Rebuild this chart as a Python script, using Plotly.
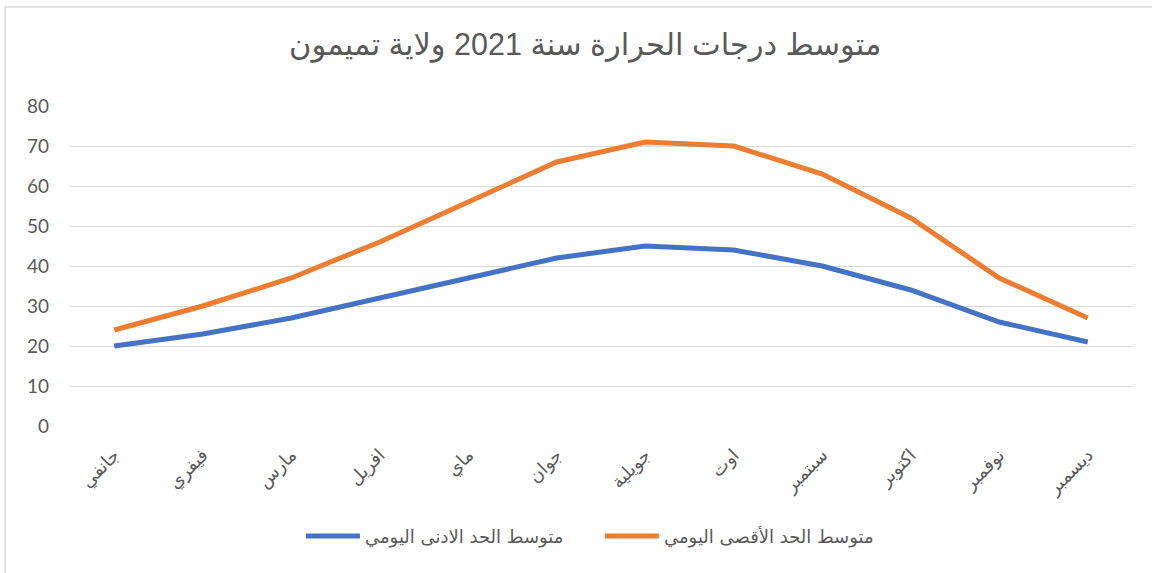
import plotly.graph_objects as go

months = ["جانفي", "فيفري", "مارس", "افريل", "ماي", "جوان", "جويلية", "اوت", "سبتمبر", "اكتوبر", "نوفمبر", "ديسمبر"]
min_vals = [20, 23, 27, 32, 37, 42, 45, 44, 40, 34, 26, 21]
max_vals = [24, 30, 37, 46, 56, 66, 71, 70, 63, 52, 37, 27]
min_name = "متوسط الحد الادنى اليومي"
max_name = "متوسط الحد الأقصى اليومي"
title_text = "متوسط درجات الحرارة سنة 2021 ولاية تميمون"
y_ticks = [0, 10, 20, 30, 40, 50, 60, 70, 80]

fig = go.Figure()
fig.add_trace(go.Scatter(x=months, y=min_vals, name=min_name, mode="lines",
                         line=dict(color="#4472C4", width=5)))
fig.add_trace(go.Scatter(x=months, y=max_vals, name=max_name, mode="lines",
                         line=dict(color="#ED7D31", width=5)))

fig.update_layout(
    width=1152, height=573,
    paper_bgcolor="white", plot_bgcolor="white",
    margin=dict(l=70, r=20, t=106, b=147),
    title=dict(text=title_text, x=0.508, xanchor="center", y=0.922, yanchor="middle",
               font=dict(family="Liberation Sans, Arial, DejaVu Sans", size=30.5, color="#595959")),
    font=dict(family="Lato, DejaVu Sans", color="#595959"),
    showlegend=True,
    legend=dict(orientation="h", x=0.499, xanchor="center", y=-0.345, yanchor="middle",
                font=dict(size=18, color="#595959", family="DejaVu Sans, Lato"),
                itemwidth=54, tracegroupgap=0, entrywidth=230),
    xaxis=dict(type="category", tickangle=-45, showgrid=False, zeroline=False,
               showline=False, ticks="", ticklabelstandoff=14,
               tickfont=dict(size=18, color="#595959", family="DejaVu Sans"),
               range=[-0.5, 11.5]),
    yaxis=dict(range=[0, 80], tickvals=y_ticks, showgrid=True, gridcolor="#D9D9D9", gridwidth=1,
               zeroline=False, showline=False, ticks="", ticklabelstandoff=20,
               tickfont=dict(size=19, color="#595959", family="Lato, Carlito, Liberation Sans")),
)

fig.add_shape(type="line", xref="paper", yref="paper", x0=-0.0612, x1=1.02, y0=1.309, y1=1.309,
              line=dict(color="#D9D9D9", width=1.5))
fig.add_shape(type="line", xref="paper", yref="paper", x0=-0.0612, x1=-0.0612, y0=-0.47, y1=1.309,
              line=dict(color="#D9D9D9", width=1.5))

fig.write_html("out.html", config={"displayModeBar": False},
               post_script="document.body.style.margin='0';")
